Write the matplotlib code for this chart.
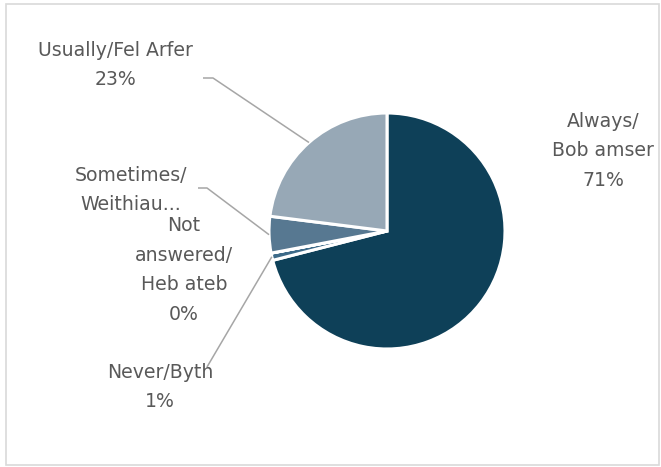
import numpy as np
import matplotlib
matplotlib.use("Agg")
import matplotlib.pyplot as plt
from matplotlib.patches import Rectangle

# answer shares, clockwise from 12 o'clock
categories = ["Always/\nBob amser", "Never/Byth", "Not\nanswered/\nHeb ateb",
              "Sometimes/\nWeithiau...", "Usually/Fel Arfer"]
shares = [71, 1, 0.0001, 5, 23]
pct_labels = ["71%", "1%", "0%", None, "23%"]
colors = ["#0e4058", "#3d6a88", "#7f97ab", "#577891", "#97a8b6"]

W, H = 661, 467
fig = plt.figure(figsize=(W / 100, H / 100), dpi=100)
ax = fig.add_axes([0, 0, 1, 1])

# chart frame
ax.add_patch(Rectangle((6, 2), 653, 461, fill=False, edgecolor="#d9d9d9", lw=1.2))

cx, cy, r = 387, H - 231, 118
wedges, _ = ax.pie(shares, colors=colors, startangle=90, counterclock=False,
                   center=(cx, cy), radius=r, frame=True,
                   wedgeprops=dict(edgecolor="white", linewidth=2.2))
ax.set_xlim(0, W)
ax.set_ylim(0, H)
ax.set_aspect("equal")
ax.axis("off")

text_kw = dict(fontsize=13.6, color="#595959", ha="center", va="center",
               family="DejaVu Sans", linespacing=1.72)

def label_text(i):
    t = categories[i]
    if pct_labels[i]:
        t += "\n" + pct_labels[i]
    return t

# label centres (pixel layout, y from top)
label_pos = {0: (603, 151), 1: (160, 387), 2: (184, 270), 3: (131, 190), 4: (115, 65)}
for i, (px, py) in label_pos.items():
    ax.text(px, H - py, label_text(i), **text_kw)

def edge_point(i, frac=1.0):
    w = wedges[i]
    mid = np.deg2rad((w.theta1 + w.theta2) / 2)
    return cx + r * frac * np.cos(mid), cy + r * frac * np.sin(mid)

# leader lines: elbow points in pixels, then to the wedge
leaders = {4: [(203, 78), (213, 78)], 3: [(198, 188), (207, 188)], 1: [(207, 367)]}
for i, pts in leaders.items():
    ex, ey = edge_point(i)
    xs = [p[0] for p in pts] + [ex]
    ys = [H - p[1] for p in pts] + [ey]
    ax.plot(xs, ys, color="#a6a6a6", lw=1.1, solid_capstyle="butt")

fig.savefig("out.png", dpi=100, facecolor="white")
